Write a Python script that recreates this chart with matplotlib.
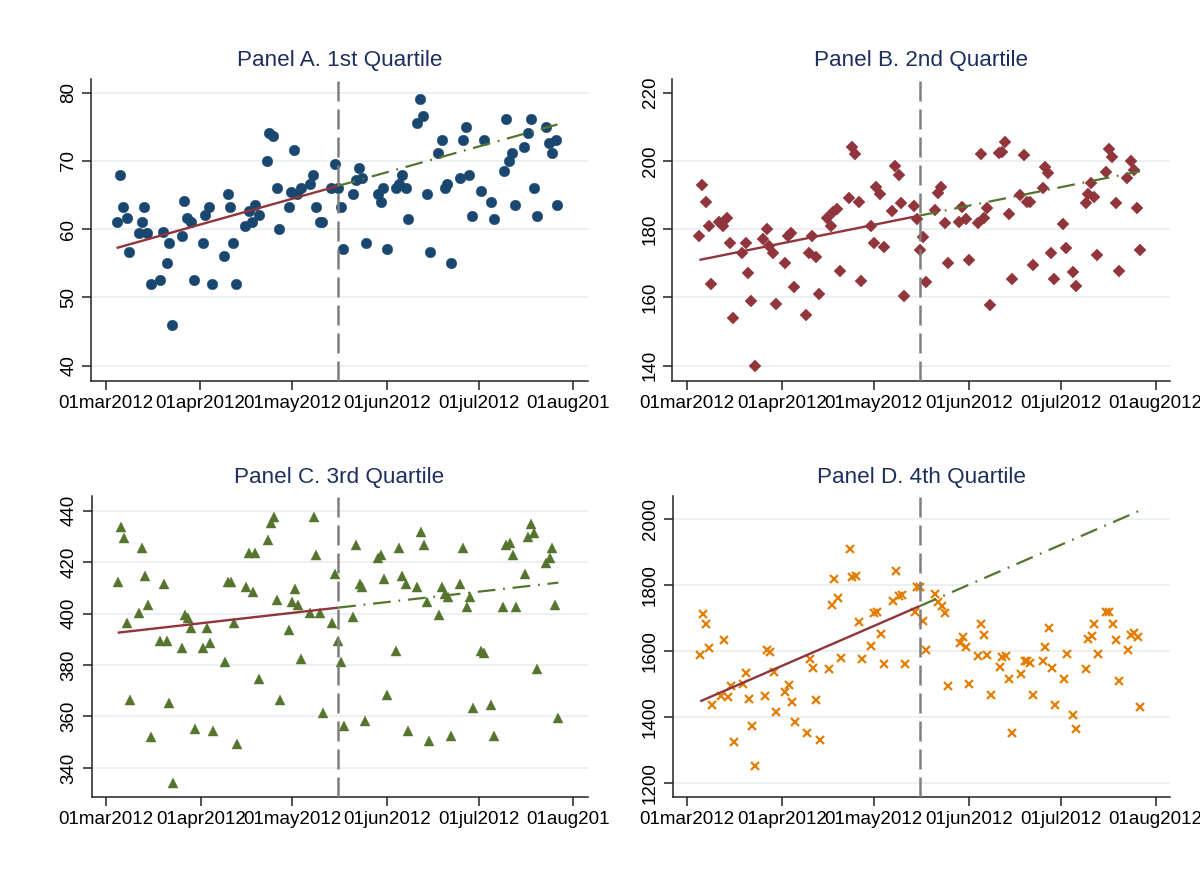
import numpy as np
import matplotlib
matplotlib.use("Agg")
import matplotlib.pyplot as plt
from matplotlib.transforms import Bbox

plt.rcParams['font.family'] = ['Liberation Sans', 'DejaVu Sans']

# ---------------- data (x = days since 01mar2012) ----------------
BREAK_DAY = 76  # 16may2012
tick_days = [0, 31, 61, 92, 122, 153]
tick_labels = ['01mar2012', '01apr2012', '01may2012', '01jun2012', '01jul2012', '01aug2012']

q1_days = [3.6, 4.8, 5.8, 6.9, 7.7, 10.8, 11.8, 12.6, 13.7, 14.8, 17.7, 18.9, 20.0, 20.7, 21.7,
           24.9, 25.8, 26.7, 27.9, 28.9, 31.9, 32.6, 33.7, 34.9, 38.7, 40.0, 40.8, 41.8, 42.8,
           45.7, 46.9, 47.9, 48.9, 50.1, 52.8, 53.5, 54.7, 56.1, 56.8, 60.0, 60.7, 61.8, 62.7,
           63.8, 66.8, 67.8, 68.9, 70.0, 70.9, 73.6, 74.9, 76.0,
           77.0, 77.8, 80.9, 81.9, 82.9, 84.0, 85.1, 89.0, 90.1, 90.9, 92.0, 95.1, 96.1, 97.1,
           98.2, 98.8, 102.0, 102.8, 103.8, 105.0, 106.0, 108.8, 110.2, 111.0, 111.8, 113.0,
           115.9, 117.0, 117.9, 118.9, 120.0, 122.8, 123.8, 126.1, 126.9, 130.2, 131.1, 132.0,
           132.9, 134.0, 136.9, 138.1, 139.0, 140.0, 141.0, 143.9, 145.0, 146.1, 147.2, 147.8]
q1_vals = [61.0, 68.0, 63.2, 61.6, 56.6, 59.5, 61.0, 63.2, 59.5, 52.0, 52.5, 59.6, 55.1, 58.0, 46.0,
           59.0, 64.1, 61.7, 61.0, 52.5, 58.0, 62.1, 63.2, 52.0, 56.1, 65.1, 63.2, 58.0, 52.0,
           60.5, 62.6, 61.0, 63.5, 62.1, 70.0, 74.1, 73.6, 66.0, 60.0, 63.2, 65.5, 71.6, 65.1,
           66.0, 66.6, 68.0, 63.2, 61.0, 61.0, 66.0, 69.6, 66.0,
           63.2, 57.1, 65.1, 67.2, 69.0, 67.5, 58.0, 65.1, 64.0, 66.0, 57.1, 66.0, 66.6, 68.0,
           66.0, 61.5, 75.5, 79.1, 76.6, 65.1, 56.6, 71.1, 73.1, 66.0, 66.6, 55.1,
           67.5, 73.1, 75.0, 68.0, 62.0, 65.6, 73.1, 64.0, 61.5, 68.5, 76.1, 70.0,
           71.1, 63.5, 72.0, 74.1, 76.1, 66.0, 62.0, 75.0, 72.6, 71.1, 73.1, 63.5]

q2_days = [4.1, 5.1, 6.1, 7.1, 7.9, 10.5, 11.9, 13.0, 14.1, 15.1, 17.9, 19.3, 20.0, 21.1, 22.1,
           25.0, 26.0, 26.9, 28.0, 29.2, 31.9, 32.9, 34.0, 35.0, 39.0, 40.0, 41.0, 42.1, 43.1,
           45.9, 47.0, 47.8, 48.9, 50.0, 52.9, 53.9, 55.0, 56.1, 56.9, 60.1, 61.0, 61.9, 63.1,
           64.3, 66.9, 67.9, 69.2, 70.0, 71.0, 74.1, 75.0, 76.0,
           77.0, 77.9, 81.0, 82.0, 82.9, 84.1, 85.1, 88.9, 89.9, 91.1, 92.0, 95.0, 96.0, 96.9,
           97.9, 99.1, 102.0, 103.0, 104.0, 105.0, 106.0, 108.9, 110.1, 111.1, 112.0, 113.0,
           116.1, 116.9, 117.8, 119.0, 120.0, 122.8, 123.9, 126.0, 126.9, 130.2, 130.8, 131.9,
           132.9, 133.9, 136.9, 137.9, 138.8, 140.1, 141.0, 143.8, 145.0, 146.0, 146.8, 147.9]
q2_vals = [178.0, 193.0, 187.9, 181.0, 163.9, 182.0, 181.0, 183.3, 176.0, 154.0, 173.1, 176.0, 167.1,
           158.9, 140.0, 177.0, 180.0, 175.2, 173.1, 158.0, 170.2, 178.0, 179.0, 163.0, 154.9, 173.1,
           178.0, 171.9, 160.9, 183.3, 181.0, 185.0, 186.0, 167.8, 189.1, 204.2, 202.1, 188.1, 164.9,
           181.0, 176.0, 192.3, 190.4, 174.9, 185.4, 198.5, 196.0, 187.6, 160.4, 186.9, 183.1, 173.9,
           177.6, 164.6, 185.6, 190.5, 192.3, 181.9, 170.0, 182.2, 186.6, 183.1, 170.9, 181.9, 202.1,
           183.3, 186.1, 157.9, 202.4, 202.6, 205.6, 184.5, 165.5, 190.1, 201.7, 187.9, 188.1, 169.4,
           192.1, 198.1, 196.4, 173.1, 165.5, 181.5, 174.5, 167.4, 163.4, 187.6, 190.3, 193.6,
           189.5, 172.4, 196.8, 203.4, 201.0, 187.6, 167.8, 194.9, 200.1, 197.2, 186.1, 173.9]

q3_days = [3.8, 4.8, 5.8, 7.0, 7.9, 10.8, 11.8, 12.9, 13.8, 14.7, 17.8, 19.0, 20.0, 20.7, 21.9,
           24.9, 25.9, 26.9, 27.9, 29.0, 31.9, 32.9, 33.9, 35.0, 38.9, 39.9, 40.9, 41.9, 43.0,
           45.7, 46.9, 48.0, 48.9, 50.1, 53.1, 53.9, 54.9, 56.0, 56.9, 59.9, 60.8, 61.9, 63.0,
           63.9, 66.9, 68.0, 68.9, 70.0, 70.9, 73.9, 74.9, 75.9,
           76.9, 78.0, 80.8, 81.9, 83.1, 83.9, 84.9, 89.1, 90.1, 90.9, 92.0, 95.0, 96.0, 96.9,
           98.2, 98.9, 101.9, 103.1, 104.0, 105.0, 105.9, 109.0, 110.0, 111.0, 111.9, 113.1,
           116.0, 117.0, 118.1, 119.1, 120.1, 122.9, 123.9, 126.1, 126.9, 130.0, 130.9, 132.2,
           133.1, 134.1, 137.1, 138.1, 139.0, 140.2, 141.0, 144.1, 145.2, 146.0, 147.1, 148.1]
q3_vals = [412.4, 433.5, 429.5, 396.4, 366.3, 400.4, 425.5, 414.5, 403.4, 352.2, 389.5, 411.4, 389.5,
           365.4, 334.3, 386.5, 399.5, 398.2, 394.3, 355.3, 386.5, 394.3, 388.5, 354.3, 381.3, 412.4,
           412.4, 396.4, 349.2, 410.5, 423.4, 408.5, 423.4, 374.5, 428.6, 435.3, 437.7, 405.4, 366.4,
           393.6, 404.5, 409.6, 403.4, 382.4, 400.4, 437.7, 422.7, 400.4, 361.4, 396.4, 415.5, 389.5,
           381.3, 356.4, 398.6, 426.6, 411.4, 410.5, 358.4, 421.5, 422.7, 413.6, 368.4, 385.5, 425.5,
           414.5, 411.4, 354.3, 410.5, 431.7, 426.6, 404.5, 350.4, 399.5, 410.5, 407.5, 406.5, 352.3,
           411.5, 425.5, 402.5, 406.6, 363.3, 385.6, 384.6, 364.4, 352.3, 402.5, 426.6, 427.6,
           422.7, 402.5, 415.5, 429.7, 434.7, 431.5, 378.5, 419.6, 421.5, 425.5, 403.5, 359.3]

q4_days = [4.3, 5.3, 6.3, 7.3, 8.3, 11.1, 12.1, 13.3, 14.2, 15.2, 18.2, 19.3, 20.2, 21.2, 22.2,
           25.3, 26.1, 27.1, 28.3, 29.2, 32.1, 33.2, 34.4, 35.2, 39.3, 40.2, 41.2, 42.1, 43.4,
           46.2, 47.2, 47.9, 49.3, 50.2, 53.3, 54.0, 55.1, 56.2, 57.1, 60.2, 61.2, 62.1, 63.3,
           64.4, 67.1, 68.2, 69.2, 70.1, 71.2, 74.3, 75.0, 76.0,
           77.1, 77.9, 81.0, 82.0, 83.1, 84.2, 85.3, 89.1, 90.0, 91.1, 92.1, 95.1, 96.0, 96.9,
           98.1, 99.1, 102.1, 103.0, 104.0, 105.1, 106.1, 109.2, 110.2, 111.1, 112.1, 113.1,
           116.1, 117.0, 118.1, 119.2, 120.0, 123.0, 124.2, 126.0, 127.0, 130.2, 131.0, 132.1,
           132.9, 134.3, 136.9, 137.9, 139.1, 140.1, 141.1, 144.1, 145.1, 146.1, 147.1, 147.9]
q4_vals = [1588, 1713, 1683, 1609, 1437, 1465, 1635, 1461, 1495, 1324, 1499, 1535, 1456, 1374, 1253,
           1463, 1604, 1596, 1537, 1416, 1475, 1498, 1447, 1384, 1352, 1576, 1550, 1452, 1329,
           1547, 1739, 1818, 1762, 1579, 1910, 1824, 1828, 1687, 1577, 1615, 1717, 1720, 1652,
           1562, 1752, 1844, 1768, 1771, 1560, 1719, 1794, 1796,
           1692, 1604, 1774, 1749, 1737, 1715, 1495, 1626, 1644, 1612, 1499, 1584, 1681, 1648,
           1587, 1467, 1553, 1581, 1584, 1517, 1353, 1530, 1570, 1570, 1564, 1467,
           1570, 1614, 1670, 1548, 1437, 1515, 1592, 1406, 1364, 1545, 1637, 1646,
           1681, 1592, 1720, 1720, 1681, 1634, 1509, 1602, 1650, 1655, 1642, 1430]

titles = ['Panel A. 1st Quartile', 'Panel B. 2nd Quartile',
          'Panel C. 3rd Quartile', 'Panel D. 4th Quartile']
yticks_list = [[40, 50, 60, 70, 80], [140, 160, 180, 200, 220],
               [340, 360, 380, 400, 420, 440], [1200, 1400, 1600, 1800, 2000]]
grid_list = [[40, 50, 60, 70, 80], [140, 160, 180, 200],
             [340, 360, 380, 400, 420, 440], [1200, 1400, 1600, 1800, 2000]]
ylims = [(37.76, 82.0), (135.5, 224.0), (328.7, 445.7), (1157.6, 2070.6)]

# ---------------- styling ----------------
W, H = 1200, 876
NAVY, MAROON, GREEN, ORANGE = '#1a476f', '#90353b', '#55752f', '#e37e00'
marker_styles = [
    dict(marker='o', ms=7.6, color=NAVY, mec=NAVY, mew=0.3),
    dict(marker='D', ms=6.6, color=MAROON, mec=MAROON, mew=0.3),
    dict(marker='^', ms=6.9, color=GREEN, mec=GREEN, mew=0.3),
    dict(marker='x', ms=5.8, color=ORANGE, mec=ORANGE, mew=1.6),
]
boxes = [(91, 79, 587.7, 381), (672.3, 79, 1170, 381),
         (91.5, 496, 587.7, 797), (672.5, 496, 1170, 797)]
clip_right = [609, 1200, 609, 1200]

fig = plt.figure(figsize=(W / 100, H / 100), dpi=100)
fig.patch.set_facecolor('white')

datasets = [(q1_days, q1_vals), (q2_days, q2_vals), (q3_days, q3_vals), (q4_days, q4_vals)]

for i, (days, vals) in enumerate(datasets):
    l, t, r, b = boxes[i]
    ax = fig.add_axes([l / W, 1 - b / H, (r - l) / W, (b - t) / H])
    d = np.asarray(days, dtype=float)
    v = np.asarray(vals, dtype=float)

    for g in grid_list[i]:
        ax.axhline(g, color='#e7eff1', lw=1.2, zorder=0)

    ax.plot(d, v, ls='none', zorder=3, **marker_styles[i])

    pre = d <= BREAK_DAY
    slope, icpt = np.polyfit(d[pre], v[pre], 1)
    x_pre = np.array([d[pre].min(), BREAK_DAY])
    x_post = np.array([BREAK_DAY, d.max()])
    ax.plot(x_pre, icpt + slope * x_pre, color=MAROON, lw=1.7, zorder=4,
            solid_capstyle='butt')
    ax.plot(x_post, icpt + slope * x_post, color=GREEN, lw=1.6, zorder=4,
            ls=(0, (8, 3.5, 0.8, 3.5)))

    ax.axvline(BREAK_DAY, color='#7f7f7f', lw=1.8, ls=(0, (8, 3.2)), zorder=5)

    ax.set_xlim(-4.75, 157.7)
    ax.set_ylim(*ylims[i])
    ax.set_xticks(tick_days)
    ax.set_xticklabels(tick_labels)
    ax.set_yticks(yticks_list[i])
    ax.set_yticklabels([str(y) for y in yticks_list[i]], rotation=90, va='center')
    ax.tick_params(axis='both', direction='out', length=6.5, width=1.1, color='#222222',
                   labelsize=13.5, labelcolor='black')
    ax.tick_params(axis='x', pad=3.3)
    ax.tick_params(axis='y', pad=3.4)
    for s in ['top', 'right']:
        ax.spines[s].set_visible(False)
    for s in ['left', 'bottom']:
        ax.spines[s].set_color('#222222')
        ax.spines[s].set_linewidth(1.1)

    clip = Bbox.from_extents(0, 0, clip_right[i], H)
    for lbl in ax.get_xticklabels():
        lbl.set_clip_on(True)
        lbl.set_clip_box(clip)

    ax.text(0.5, 1 + 18.5 / (b - t), titles[i], transform=ax.transAxes,
            ha='center', va='center', fontsize=16.2, color='#1e2f5e')

fig.savefig('out.png', dpi=100, facecolor='white')
